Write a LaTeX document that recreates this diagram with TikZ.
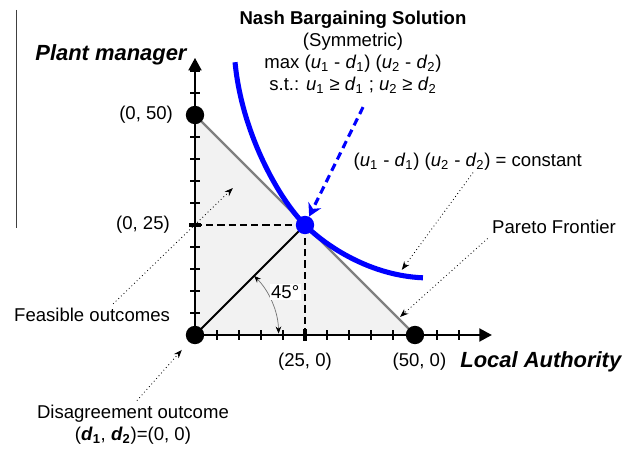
\documentclass[tikz,border=0pt]{standalone}
\usepackage{fontspec}
\setmainfont{Liberation Sans}
\usetikzlibrary{arrows.meta, calc}
\newcommand{\uvar}[1]{\textit{u}\textsubscript{#1}}
\newcommand{\dvar}[1]{\textit{d}\textsubscript{#1}}
\newcommand{\dbvar}[1]{\textbf{\textit{d}\textsubscript{#1}}}

\begin{document}
\begin{tikzpicture}[
	x=0.11cm, y=0.11cm,
	font=\fontsize{13.2}{15.6}\selectfont,
	>={Stealth[length=6pt,width=4.5pt]},
	axis/.style={line width=2.1pt, -{Triangle[length=9pt,width=9pt]}},
	tickmark/.style={line width=1.1pt},
	bigtick/.style={line width=2.2pt},
	dot/.style={circle, fill=black, inner sep=0pt, minimum size=0.46cm},
	guide/.style={line width=1.5pt, dash pattern=on 5pt off 3pt},
	pointer/.style={dotted, line width=0.6pt, ->},
	nbsarrow/.style={blue, line width=2.2pt, dash pattern=on 5.5pt off 3.5pt,
		-{Stealth[length=9pt,width=10pt]}},
	axtitle/.style={font=\fontsize{15.6}{18}\selectfont\bfseries\itshape},
	lbl/.style={inner sep=3pt}
	]
	\useasboundingbox (-44.32,-25.91) rectangle (99.55,76.14);
	
	%--- leftover rule at the left border ----------------------------------------
	\draw[black!75, line width=1pt] (-40.6,73.9) -- (-40.6,24.3);
	
	%--- feasible set and Pareto frontier ----------------------------------------
	\fill[black!5] (0,0) -- (0,50) -- (50,0) -- cycle;
	\draw[black!50, line width=1.7pt] (0,50) -- (50,0);
	
	%--- points ------------------------------------------------------------------
	\coordinate (d0pos) at (0,0);
	\coordinate (ytip) at (0,63);
	\coordinate (xtip) at (67.5,0);
	\coordinate (y25) at (0,25);
	\coordinate (x25) at (25,0);
	
	%--- guides to the solution --------------------------------------------------
	\draw[guide] (y25) -- (25,25);
	\draw[guide] (x25) -- (25,25);
	\draw[line width=1.3pt] (d0pos) -- (25,25);
	
	%--- axes with ticks ---------------------------------------------------------
	\draw[axis] (d0pos) -- (ytip);
	\draw[axis] (d0pos) -- (xtip);
	\foreach \k in {5,10,...,60} {
		\draw[tickmark] (\k,-1.1) -- (\k,1.1);
		\draw[tickmark] (-1.1,\k) -- (1.1,\k);
	}
	\draw[bigtick] (-1.3,25) -- (1.3,25);
	\draw[bigtick] (25,-1.3) -- (25,1.3);
	
	%--- angle -------------------------------------------------------------------
	\draw[black!55, line width=0.5pt, {Stealth[length=5pt,width=4pt,black]}-{Stealth[length=5pt,width=4pt,black]}]
	($(d0pos)+(45:2.09cm)$) arc[start angle=45, end angle=1, radius=2.09cm];
	\node[fill=white, inner sep=1pt] (ang) at (20.5,9.8) {45°};
	
	%--- iso-product curve -------------------------------------------------------
	\draw[blue, line width=3.6pt] (9.1,62) .. controls (10.6,46) and (19,31) .. (25,25)
	.. controls (30,20) and (40,13.5) .. (51.8,13);
	
	%--- dots --------------------------------------------------------------------
	\node[dot] (d0) at (0,0) {};
	\node[dot] (y50) at (0,50) {};
	\node[dot] (x50) at (50,0) {};
	\node[dot, fill=blue] (nbs) at (25,25) {};
	
	%--- labels ------------------------------------------------------------------
	\node[axtitle] (ytitle) at (-19.1,63.6) {Plant manager};
	\node[axtitle] (xtitle) at (78.6,-6.2) {Local Authority};
	\node[lbl, anchor=east] (l050) at (-4,50) {(0, 50)};
	\node[lbl, anchor=east] (l025) at (-4.7,25) {(0, 25)};
	\node[lbl] (l250) at (25,-6) {(25, 0)};
	\node[lbl] (l500) at (51,-6) {(50, 0)};
	
	\node[align=center] (title) at (35.9,64.2)
	{\textbf{Nash Bargaining Solution}\\
		(Symmetric)\\
		max (\uvar{1} - \dvar{1}) (\uvar{2} - \dvar{2})\\
		s.t.: \uvar{1} ≥ \dvar{1} ; \uvar{2} ≥ \dvar{2}};
	\node[lbl] (cst) at (62,39.5)
	{(\uvar{1} - \dvar{1}) (\uvar{2} - \dvar{2}) = constant};
	\node[lbl] (par) at (81.6,24.5) {Pareto Frontier};
	\node[lbl] (feas) at (-23.4,4.5) {Feasible outcomes};
	\node[lbl, align=center] (dis) at (-14.1,-20.4)
	{Disagreement outcome\\(\dbvar{1}, \dbvar{2})=(0, 0)};
	
	%--- pointers ----------------------------------------------------------------
	\coordinate (nbsFrom) at (38.2,51.8);
	\coordinate (feasTip) at (8.6,33.4);
	\coordinate (disTip) at (-3,-3.4);
	\coordinate (cstTip) at (47,14.8);
	\coordinate (parTip) at (46.6,4.1);
	
	\draw[nbsarrow] (nbsFrom) -- (nbs);
	\draw[pointer] ($(feas.north)+(4.8,0)$) -- (feasTip);
	\draw[pointer] ($(dis.north)+(0.9,0)$) -- (disTip);
	\draw[pointer] ($(cst.south)+(1.2,0.4)$) -- (cstTip);
	\draw[pointer] (par.south west) -- (parTip);
\end{tikzpicture}
\end{document}
